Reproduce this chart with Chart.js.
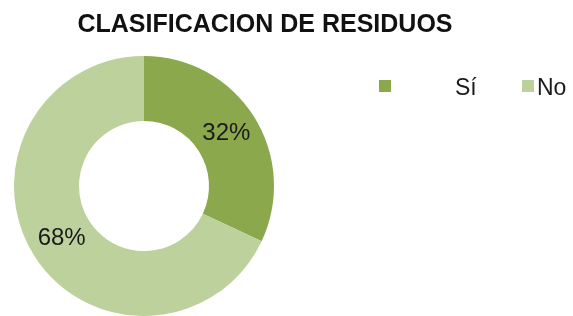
<!DOCTYPE html>
<html>
<head>
<meta charset="utf-8">
<script src="https://cdn.jsdelivr.net/npm/chart.js@4/dist/chart.umd.min.js"></script>
<style>
html,body{margin:0;padding:0;background:#fff;}
#wrap{width:573px;height:316px;position:relative;}
</style>
</head>
<body>
<div id="wrap"><canvas id="c" width="573" height="316"></canvas></div>
<script>
const title = "CLASIFICACION DE RESIDUOS";
const categories = ["Sí", "No"];
const values = [32, 68];
const colors = ["#8ba84c", "#bcd19b"];

const FONT = "'Liberation Sans', Arial, sans-serif";

const titlePlugin = {
  id: 'customTitle',
  afterDraw(chart) {
    const ctx = chart.ctx;
    ctx.save();
    ctx.font = "bold 25px " + FONT;
    ctx.fillStyle = "#111";
    ctx.textAlign = "center";
    ctx.textBaseline = "alphabetic";
    ctx.fillText(title, 265, 32);
    ctx.restore();
  }
};

const legendPlugin = {
  id: 'customLegend',
  afterDraw(chart) {
    const ctx = chart.ctx;
    const items = [
      {box: 379, text: 455},
      {box: 522, text: 537}
    ];
    ctx.save();
    ctx.font = "23px " + FONT;
    ctx.textBaseline = "alphabetic";
    ctx.textAlign = "left";
    chart.data.labels.forEach((lab, i) => {
      const it = items[i];
      ctx.fillStyle = chart.data.datasets[0].backgroundColor[i];
      ctx.fillRect(it.box, 80, 12, 12);
      ctx.fillStyle = "#1a1a1a";
      ctx.fillText(lab, it.text, 95);
    });
    ctx.restore();
  }
};

const labelPlugin = {
  id: 'sliceLabels',
  afterDatasetsDraw(chart) {
    const ctx = chart.ctx;
    const meta = chart.getDatasetMeta(0);
    const data = chart.data.datasets[0].data;
    const total = data.reduce((a, b) => a + b, 0);
    ctx.save();
    ctx.font = "24px " + FONT;
    ctx.fillStyle = "#1a1a1a";
    ctx.textAlign = "center";
    ctx.textBaseline = "middle";
    meta.data.forEach((arc, i) => {
      const p = arc.getCenterPoint();
      const pct = Math.round(data[i] / total * 100) + "%";
      ctx.fillText(pct, p.x, p.y);
    });
    ctx.restore();
  }
};

new Chart(document.getElementById('c'), {
  type: 'doughnut',
  data: {
    labels: categories,
    datasets: [{
      data: values,
      backgroundColor: colors,
      borderWidth: 0
    }]
  },
  options: {
    responsive: false,
    animation: false,
    cutout: '50%',
    layout: { padding: { left: 14, right: 299, top: 56, bottom: 0 } },
    plugins: {
      legend: { display: false },
      title: { display: false },
      tooltip: { enabled: false }
    }
  },
  plugins: [titlePlugin, legendPlugin, labelPlugin]
});
</script>
</body>
</html>
